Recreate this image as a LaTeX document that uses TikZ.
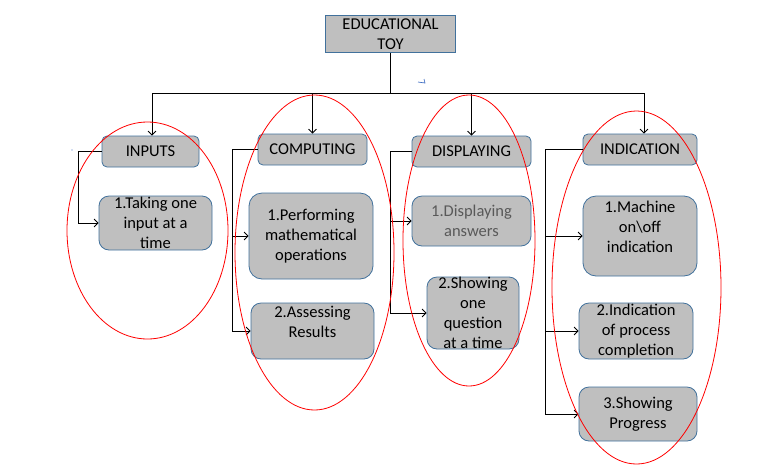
\documentclass[tikz,border=0pt]{standalone}
\usepackage{fontspec}
\setmainfont{Carlito}
\usetikzlibrary{arrows.meta}
\definecolor{boxfill}{HTML}{BFBFBF}
\definecolor{boxline}{HTML}{41719C}
\definecolor{txtgray}{HTML}{595959}
\definecolor{markblue}{HTML}{4472C4}
\begin{document}
\begin{tikzpicture}[x=1pt,y=-1pt,
  box/.style={draw=boxline, fill=boxfill, line width=0.8pt, inner sep=0pt, align=center,
    font=\fontsize{16.5}{19.8}\selectfont},
  head/.style={box, rounded corners=5pt},
  child/.style={box, rounded corners=10pt},
  txt/.style={align=center, inner sep=0pt, font=\fontsize{16.5}{19.8}\selectfont},
  conn/.style={draw=black, line width=0.8pt},
  arr/.style={conn, -{Straight Barb[length=4pt,width=8pt]}},
  oval/.style={draw=red, line width=0.8pt}]
\useasboundingbox (0,0) rectangle (769,475);
% top node
\node[box, minimum width=130pt, minimum height=37pt] (top) at (390.5,34) {EDUCATIONAL\\TOY};
% headers
\node[head, minimum width=97pt, minimum height=31pt] (inputs) at (150.5,151.5) {INPUTS};
\node[head, minimum width=109pt, minimum height=31pt] (comp) at (312.5,149.5) {COMPUTING};
\node[head, minimum width=119pt, minimum height=31pt] (disp) at (471.5,151.5) {DISPLAYING};
\node[head, minimum width=114pt, minimum height=31pt] (ind) at (640,149.5) {INDICATION};
% children
\node[child, minimum width=113pt, minimum height=54pt] (in1) at (155.5,223) {1.Taking one\\input at a\\time};
\node[child, rounded corners=13pt, minimum width=124pt, minimum height=86pt] (c1) at (311,236) {1.Performing\\mathematical\\operations};
\node[child, minimum width=123pt, minimum height=56pt] (c2) at (312.5,331) {};
\node[txt] (c2t) at (312.5,322) {2.Assessing\\Results};
\node[child, minimum width=119pt, minimum height=50pt, text=txtgray] (d1) at (471.5,221) {1.Displaying\\answers};
\node[child, minimum width=92pt, minimum height=72pt] (d2) at (473,313) {2.Showing\\one\\question\\at a time};
\node[child, rounded corners=13pt, minimum width=114pt, minimum height=80pt] (i1) at (640,236) {};
\node[txt] (i1t) at (640,227) {1.Machine\\on\textbackslash off\\indication};
\node[child, minimum width=114pt, minimum height=56pt] (i2) at (636,331) {2.Indication\\of process\\completion};
\node[child, minimum width=118pt, minimum height=54pt] (i3) at (638,414) {3.Showing\\Progress};
% bus
\coordinate (busL) at (152,93);
\coordinate (busR) at (644,93);
\draw[conn] (top.south) -- (top.south |- busL);
\draw[conn] (busL) -- (busR);
\draw[arr] (busL) -- (busL |- inputs.north);
\draw[arr] (comp.north |- busL) -- (comp.north);
\draw[arr] (disp.north |- busL) -- (disp.north);
\draw[arr] (busR) -- (busR |- ind.north);
% side connectors
\draw[arr] (inputs.west) -- ++(-23,0) |- (in1.west);
\draw[arr] (comp.west) -- ++(-25,0) |- (c2.west);
\draw[arr] (comp.west) ++(-25,0) |- (c1.west);
\draw[arr] (disp.west) -- ++(-21,0) |- (d2.west);
\draw[arr] (disp.west) ++(-21,0) |- (d1.west);
\draw[arr] (ind.west) -- ++(-37,0) |- (i3.west);
\draw[arr] (ind.west) ++(-37,0) |- (i1.west);
\draw[arr] (ind.west) ++(-37,0) |- (i2.west);
% ovals
\draw[oval] (147.5,230.5) ellipse [x radius=80.5pt, y radius=108.5pt];
\draw[oval] (314.5,252.5) ellipse [x radius=79.5pt, y radius=157.5pt];
\draw[oval] (469,240.5) ellipse [x radius=66pt, y radius=145.5pt];
\draw[oval] (636.5,287.5) ellipse [x radius=84.5pt, y radius=176.5pt];
% stray marks
\draw[markblue, line width=0.7pt] (418,82) -- (425,83) -- (424,79);
\fill[markblue] (72,150) circle (0.6pt);
\end{tikzpicture}
\end{document}
